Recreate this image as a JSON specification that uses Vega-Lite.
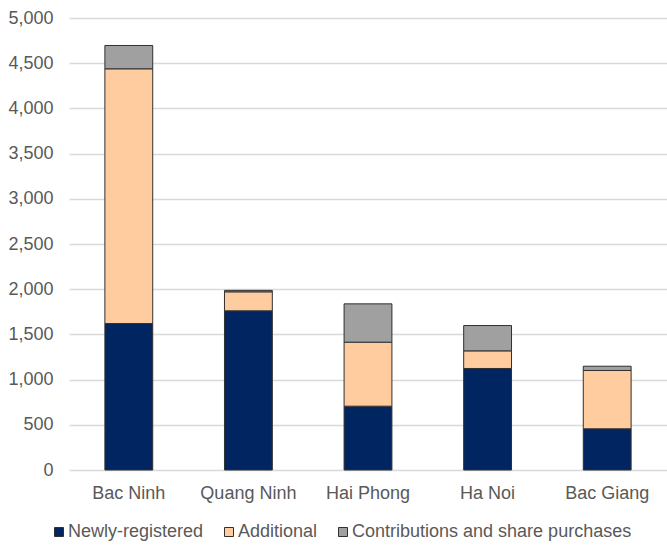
{
  "$schema": "https://vega.github.io/schema/vega-lite/v6.json",
  "autosize": "none",
  "width": 598,
  "height": 452,
  "padding": {"left": 69, "top": 18, "right": 0, "bottom": 75},
  "background": "white",
  "config": {
    "view": {"stroke": null},
    "font": "Liberation Sans",
    "axis": {"labelFont": "Liberation Sans", "labelFontSize": 18, "labelColor": "#595959"},
    "legend": {"labelFont": "Liberation Sans", "labelFontSize": 18, "labelColor": "#595959"}
  },
  "data": {
    "values": [
      {"region": "Bac Ninh", "type": "Newly-registered", "value": 1620},
      {"region": "Bac Ninh", "type": "Additional", "value": 2818},
      {"region": "Bac Ninh", "type": "Contributions and share purchases", "value": 258},
      {"region": "Quang Ninh", "type": "Newly-registered", "value": 1761},
      {"region": "Quang Ninh", "type": "Additional", "value": 210},
      {"region": "Quang Ninh", "type": "Contributions and share purchases", "value": 16},
      {"region": "Hai Phong", "type": "Newly-registered", "value": 706},
      {"region": "Hai Phong", "type": "Additional", "value": 708},
      {"region": "Hai Phong", "type": "Contributions and share purchases", "value": 424},
      {"region": "Ha Noi", "type": "Newly-registered", "value": 1123},
      {"region": "Ha Noi", "type": "Additional", "value": 195},
      {"region": "Ha Noi", "type": "Contributions and share purchases", "value": 280},
      {"region": "Bac Giang", "type": "Newly-registered", "value": 456},
      {"region": "Bac Giang", "type": "Additional", "value": 645},
      {"region": "Bac Giang", "type": "Contributions and share purchases", "value": 47}
    ]
  },
  "transform": [
    {"calculate": "indexof(['Newly-registered', 'Additional', 'Contributions and share purchases'], datum.type)", "as": "stackOrder"}
  ],
  "mark": {"type": "bar", "stroke": "#303030", "strokeWidth": 1},
  "encoding": {
    "x": {
      "field": "region",
      "type": "nominal",
      "sort": null,
      "title": null,
      "scale": {"paddingInner": 0.6, "paddingOuter": 0.3},
      "axis": {"labelAngle": 0, "domain": false, "ticks": false, "tickSize": 0, "labelPadding": 14}
    },
    "y": {
      "field": "value",
      "type": "quantitative",
      "stack": "zero",
      "title": null,
      "scale": {"domain": [0, 5000], "nice": false},
      "axis": {
        "values": [0, 500, 1000, 1500, 2000, 2500, 3000, 3500, 4000, 4500, 5000],
        "format": ",d",
        "domain": false,
        "ticks": false,
        "tickSize": 0,
        "labelPadding": 16,
        "gridColor": "#d9d9d9",
        "gridWidth": 1.3
      }
    },
    "order": {"field": "stackOrder", "type": "quantitative", "sort": "ascending"},
    "color": {
      "field": "type",
      "type": "nominal",
      "sort": ["Newly-registered", "Additional", "Contributions and share purchases"],
      "scale": {
        "domain": ["Newly-registered", "Additional", "Contributions and share purchases"],
        "range": ["#002560", "#FFCCA0", "#A0A0A0"]
      },
      "legend": {
        "title": null,
        "orient": "none",
        "direction": "horizontal",
        "legendX": -19,
        "legendY": 505,
        "symbolType": "square",
        "symbolSize": 81,
        "symbolStrokeColor": "#303030",
        "symbolStrokeWidth": 1,
        "labelOffset": 0,
        "labelLimit": 400,
        "columnPadding": 16,
        "padding": 0
      }
    }
  }
}
